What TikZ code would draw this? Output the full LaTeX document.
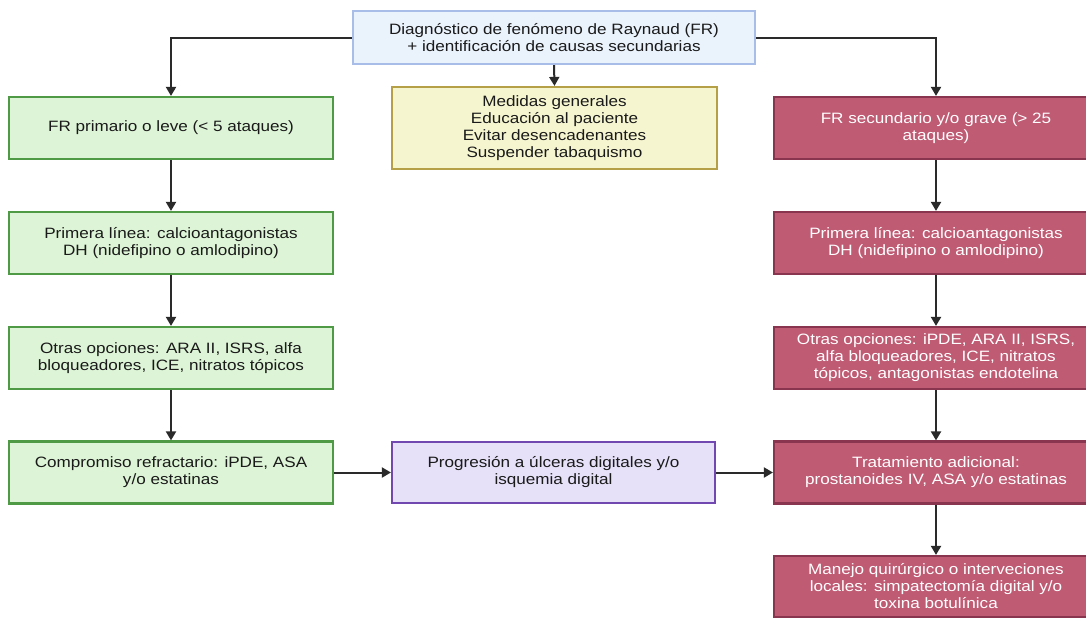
\documentclass[tikz,border=0pt]{standalone}
\usepackage{fontspec}
\setmainfont[FakeStretch=1.14]{Liberation Sans}
\usetikzlibrary{arrows.meta}
\definecolor{gfill}{HTML}{DDF5D6}
\definecolor{gdraw}{HTML}{4E9A45}
\definecolor{rfill}{HTML}{C05B74}
\definecolor{rdraw}{HTML}{8A3550}
\definecolor{yfill}{HTML}{F5F5D0}
\definecolor{ydraw}{HTML}{B5A048}
\definecolor{bfill}{HTML}{EAF2FC}
\definecolor{bdraw}{HTML}{A8BDE8}
\definecolor{pfill}{HTML}{E6E0F8}
\definecolor{pdraw}{HTML}{7048B0}
\definecolor{txt}{HTML}{1A1A1A}
\definecolor{arr}{HTML}{2A2A2A}
\tikzset{
  box/.style={draw, line width=2.2pt, align=center, inner sep=0pt,
    font=\fontsize{15}{17}\selectfont, text=txt},
  gbox/.style={box, fill=gfill, draw=gdraw, minimum width=324pt, minimum height=62pt},
  rbox/.style={box, fill=rfill, draw=rdraw, text=white, minimum width=324pt, minimum height=62pt},
  conn/.style={draw=arr, line width=2pt, -{Triangle[length=9pt,width=10pt]}},
}
\begin{document}
\begin{tikzpicture}[x=1pt,y=-1pt]
\useasboundingbox (0,0) rectangle (1086,621);
\clip (0,0) rectangle (1086,621);
\fill[white] (0,0) rectangle (1086,621);
\node[box, fill=bfill, draw=bdraw, minimum width=402pt, minimum height=53pt] (top) at (554,37.5)
  {Diagnóstico de fenómeno de Raynaud (FR)\\+ identificación de causas secundarias};
\node[box, fill=yfill, draw=ydraw, minimum width=325pt, minimum height=82pt] (med) at (554.5,128)
  {Medidas generales\\Educación al paciente\\Evitar desencadenantes\\Suspender tabaquismo};
\node[gbox] (g1) at (171,128) {FR primario o leve (< 5 ataques)};
\node[gbox] (g2) at (171,243) {Primera línea: calcioantagonistas\\DH (nidefipino o amlodipino)};
\node[gbox] (g3) at (171,358) {Otras opciones: ARA II, ISRS, alfa\\bloqueadores, ICE, nitratos tópicos};
\node[gbox] (g4) at (171,472.5) {Compromiso refractario: iPDE, ASA\\y/o estatinas};
\node[box, fill=pfill, draw=pdraw, minimum width=323pt, minimum height=61pt] (pur) at (553.5,472.5)
  {Progresión a úlceras digitales y/o\\isquemia digital};
\node[rbox] (r1) at (936,128) {FR secundario y/o grave (> 25\\ataques)};
\node[rbox] (r2) at (936,243) {Primera línea: calcioantagonistas\\DH (nidefipino o amlodipino)};
\node[rbox] (r3) at (936,358) {Otras opciones: iPDE, ARA II, ISRS,\\alfa bloqueadores, ICE, nitratos\\tópicos, antagonistas endotelina};
\node[rbox] (r4) at (936,472.5) {Tratamiento adicional:\\prostanoides IV, ASA y/o estatinas};
\node[rbox, minimum height=61pt] (r5) at (936,586.5) {Manejo quirúrgico o interveciones\\locales: simpatectomía digital y/o\\toxina botulínica};
\draw[conn] (top.south) -- (med.north);
\draw[conn] (top.west) -| (g1.north);
\draw[conn] (top.east) -| (r1.north);
\draw[conn] (g1) -- (g2);
\draw[conn] (g2) -- (g3);
\draw[conn] (g3) -- (g4);
\draw[conn] (g4) -- (pur);
\draw[conn] (pur) -- (r4.west);
\draw[conn] (r1) -- (r2);
\draw[conn] (r2) -- (r3);
\draw[conn] (r3) -- (r4);
\draw[conn] (r4) -- (r5);
\end{tikzpicture}
\end{document}
